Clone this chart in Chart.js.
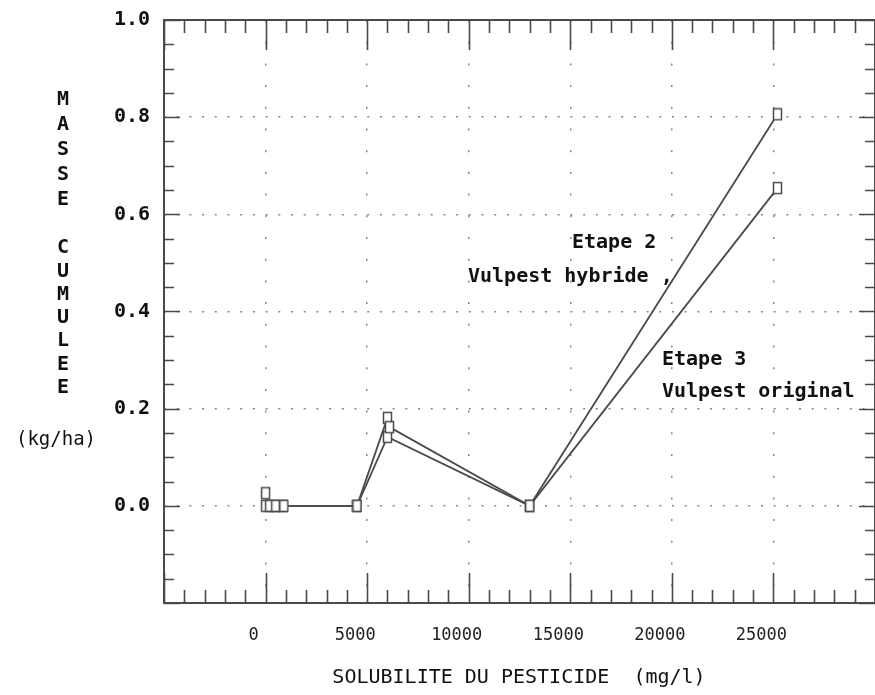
<!DOCTYPE html>
<html>
<head>
<meta charset="utf-8">
<script src="https://cdn.jsdelivr.net/npm/chart.js@4/dist/chart.umd.min.js"></script>
<style>
  html, body { margin: 0; padding: 0; background: #fff; }
  #wrap { width: 875px; height: 695px; }
</style>
</head>
<body>
<div id="wrap"><canvas id="myChart" width="875" height="695"></canvas></div>
<script>
// values
const solubility2 = [0, 200, 500, 900, 4500, 6000, 6100, 13000, 25200];
const masse2 = [0.026, 0, 0, 0, 0, 0.181, 0.162, 0, 0.806];
const solubility3 = [0, 450, 850, 4500, 6000, 13000, 25200];
const masse3 = [0, 0, 0, 0, 0.142, 0, 0.654];

const xTickLabels = ["0", "5000", "10000", "15000", "20000", "25000"];
const yTickLabels = ["0.0", "0.2", "0.4", "0.6", "0.8", "1.0"];

const inkColor = "#4a4a4a";
const monoFont = "'DejaVu Sans Mono', monospace";

// hollow tall squares used as markers
function makeMarker() {
  const c = document.createElement("canvas");
  c.width = 11;
  c.height = 14;
  const g = c.getContext("2d");
  g.fillStyle = "#fff";
  g.fillRect(1, 1, 9, 12);
  g.strokeStyle = inkColor;
  g.lineWidth = 1.5;
  g.strokeRect(1.5, 1.5, 8, 11);
  return c;
}
const marker = makeMarker();

function toPoints(xs, ys) {
  return xs.map((x, i) => ({ x: x, y: ys[i] }));
}

// frame, inward ticks and all free text
const framePlugin = {
  id: "frame",
  afterDraw(chart) {
    const ctx = chart.ctx;
    const a = chart.chartArea;
    const xs = chart.scales.x;
    const ys = chart.scales.y;
    ctx.save();
    ctx.strokeStyle = inkColor;
    ctx.lineWidth = 1.6;

    for (let v = -5000; v <= 30000; v += 1000) {
      const px = Math.round(xs.getPixelForValue(v)) + 0.5;
      const len = v % 5000 === 0 ? 30 : 13;
      ctx.beginPath();
      ctx.moveTo(px, a.bottom);
      ctx.lineTo(px, a.bottom - len);
      ctx.moveTo(px, a.top);
      ctx.lineTo(px, a.top + len);
      ctx.stroke();
    }
    for (let i = 0; i <= 24; i++) {
      const v = -0.2 + i * 0.05;
      const py = Math.round(ys.getPixelForValue(v)) + 0.5;
      const len = i % 4 === 0 ? 16 : 10;
      ctx.beginPath();
      ctx.moveTo(a.left, py);
      ctx.lineTo(a.left + len, py);
      ctx.moveTo(a.right, py);
      ctx.lineTo(a.right - len, py);
      ctx.stroke();
    }

    ctx.lineWidth = 2;
    ctx.strokeRect(a.left, a.top, a.right - a.left, a.bottom - a.top);

    ctx.fillStyle = "#111";
    ctx.textBaseline = "middle";
    ctx.font = "bold 20px " + monoFont;

    // vertical y title
    ctx.textAlign = "center";
    "MASSE".split("").forEach((ch, i) => ctx.fillText(ch, 63, 100 + i * 25));
    "CUMULEE".split("").forEach((ch, i) => ctx.fillText(ch, 63, 248 + i * 23.3));
    ctx.font = "19px " + monoFont;
    ctx.fillText("(kg/ha)", 56, 440);

    // x title
    ctx.font = "20px " + monoFont;
    ctx.fillText("SOLUBILITE DU PESTICIDE  (mg/l)", 519, 678);

    // series labels
    ctx.textAlign = "left";
    ctx.font = "bold 20px " + monoFont;
    ctx.fillText("Etape 2", 572, 243);
    ctx.fillText("Vulpest hybride ,", 468, 277);
    ctx.fillText("Etape 3", 662, 360);
    ctx.fillText("Vulpest original", 662, 392);
    ctx.restore();
  }
};

const ctx = document.getElementById("myChart").getContext("2d");
const myChart = new Chart(ctx, {
  type: "line",
  data: {
    datasets: [
      {
        label: "Etape 2 Vulpest hybride",
        data: toPoints(solubility2, masse2),
        borderColor: inkColor,
        borderWidth: 1.8,
        tension: 0,
        pointStyle: marker,
        pointRadius: 6,
      },
      {
        label: "Etape 3 Vulpest original",
        data: toPoints(solubility3, masse3),
        borderColor: inkColor,
        borderWidth: 1.8,
        tension: 0,
        pointStyle: marker,
        pointRadius: 6,
      },
    ],
  },
  options: {
    responsive: false,
    animation: false,
    layout: { autoPadding: false, padding: { top: 20, right: 0, bottom: 0, left: 0 } },
    plugins: {
      legend: { display: false },
      tooltip: { enabled: false },
    },
    scales: {
      x: {
        type: "linear",
        min: -5000,
        max: 30000,
        afterFit: (scale) => { scale.height = 92; },
        border: { display: false, dash: [2, 19.7] },
        grid: {
          color: "#888",
          lineWidth: 1.5,
          drawTicks: true,
          tickLength: 22,
          tickColor: "rgba(0,0,0,0)",
        },
        ticks: {
          stepSize: 5000,
          autoSkip: false,
          maxRotation: 0,
          padding: 0,
          labelOffset: -12,
          color: "#222",
          font: { family: monoFont, size: 17 },
          callback: (v) => {
            const s = String(v);
            return xTickLabels.includes(s) ? s : "";
          },
        },
      },
      y: {
        type: "linear",
        min: -0.2,
        max: 1.0,
        afterFit: (scale) => { scale.width = 164; },
        border: { display: false, dash: [2, 10.7] },
        grid: {
          color: "#888",
          lineWidth: 1.5,
          drawTicks: true,
          tickLength: 14,
          tickColor: "rgba(0,0,0,0)",
        },
        ticks: {
          stepSize: 0.2,
          padding: 0,
          color: "#111",
          font: { family: monoFont, size: 20, weight: "bold" },
          callback: (v) => {
            const n = Math.abs(v) < 1e-9 ? 0 : Number(v);
            const s = n.toFixed(1);
            return yTickLabels.includes(s) ? s : "";
          },
        },
      },
    },
  },
  plugins: [framePlugin],
});
</script>
</body>
</html>
